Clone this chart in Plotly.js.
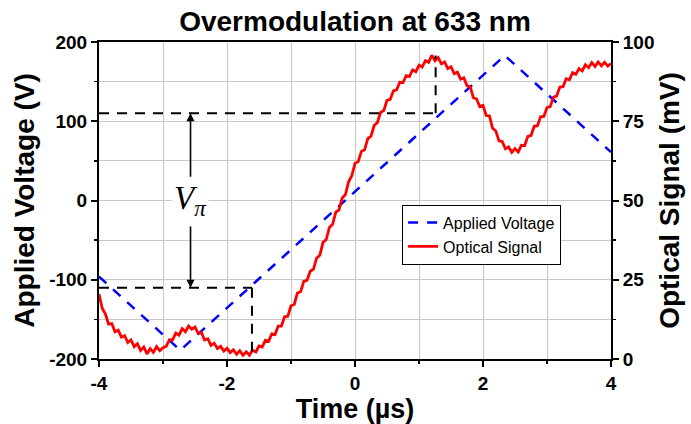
<!DOCTYPE html>
<html>
<head>
<meta charset="utf-8">
<script src="https://cdn.plot.ly/plotly-3.0.1.min.js"></script>
<style>html,body{margin:0;padding:0;background:#fff;}#chart{width:691px;height:424px;}</style>
</head>
<body>
<div id="chart"></div>
<script>
// Applied voltage (triangle wave vertices)
const voltTime = [-4.0, -2.73, 2.34, 4.0];
const voltValue = [-96, -189, 183, 61];

// Optical signal (mV)
const optTime = [
-4.00,-3.95,-3.90,-3.85,-3.80,-3.75,-3.70,-3.65,-3.60,-3.55,-3.50,-3.45,-3.40,-3.35,-3.30,-3.25,-3.20,-3.15,-3.10,-3.05,
-3.00,-2.95,-2.90,-2.85,-2.80,-2.75,-2.70,-2.65,-2.60,-2.55,-2.50,-2.45,-2.40,-2.35,-2.30,-2.25,-2.20,-2.15,-2.10,-2.05,
-2.00,-1.95,-1.90,-1.85,-1.80,-1.75,-1.70,-1.65,-1.60,-1.55,-1.50,-1.45,-1.40,-1.35,-1.30,-1.25,-1.20,-1.15,-1.10,-1.05,
-1.00,-0.95,-0.90,-0.85,-0.80,-0.75,-0.70,-0.65,-0.60,-0.55,-0.50,-0.45,-0.40,-0.35,-0.30,-0.25,-0.20,-0.15,-0.10,-0.05,
0.00,0.05,0.10,0.15,0.20,0.25,0.30,0.35,0.40,0.45,0.50,0.55,0.60,0.65,0.70,0.75,0.80,0.85,0.90,0.95,
1.00,1.05,1.10,1.15,1.20,1.25,1.30,1.35,1.40,1.45,1.50,1.55,1.60,1.65,1.70,1.75,1.80,1.85,1.90,1.95,
2.00,2.05,2.10,2.15,2.20,2.25,2.30,2.35,2.40,2.45,2.50,2.55,2.60,2.65,2.70,2.75,2.80,2.85,2.90,2.95,
3.00,3.05,3.10,3.15,3.20,3.25,3.30,3.35,3.40,3.45,3.50,3.55,3.60,3.65,3.70,3.75,3.80,3.85,3.90,3.95,4.00
];
const optValue = [
20.5,16.0,14.2,11.0,11.2,8.6,9.1,6.9,7.4,5.2,6.0,3.9,4.8,2.7,3.8,1.6,3.3,2.1,3.9,2.6,
3.6,4.0,6.1,6.0,8.2,7.5,9.6,8.6,10.4,9.4,10.1,8.1,8.4,6.0,6.4,4.3,5.0,3.3,4.0,2.5,
3.4,2.0,2.9,1.5,2.6,1.2,2.3,1.2,2.8,2.2,4.1,3.8,5.9,5.6,7.9,7.7,10.4,10.4,13.3,13.5,
16.8,17.2,20.8,21.2,24.5,24.8,27.7,28.3,31.8,32.7,36.8,37.7,41.5,42.5,46.3,47.0,50.8,51.9,55.9,57.8,
61.7,62.3,65.5,66.0,69.5,70.3,73.7,74.6,77.8,78.4,81.6,81.9,84.6,84.9,87.3,87.2,89.4,89.1,91.2,90.6,
92.7,92.1,94.1,93.6,95.8,94.1,95.1,93.1,93.7,91.6,92.2,90.0,90.5,88.3,88.7,86.2,85.9,82.4,82.0,79.6,
80.0,76.8,76.7,72.8,71.9,68.8,68.6,66.3,66.9,65.2,66.4,65.3,67.4,67.3,70.2,70.5,73.4,73.6,76.4,76.5,
79.3,79.6,82.6,82.9,85.8,85.9,88.4,88.1,90.3,89.8,91.6,90.9,92.8,91.9,93.5,92.3,93.7,92.5,93.6,92.4,93.2
];

// Tick labels
const xTickVals = [-4, -2, 0, 2, 4];
const xTickText = ['-4', '-2', '0', '2', '4'];
const yTickVals = [-200, -100, 0, 100, 200];
const yTickText = ['-200', '-100', '0', '100', '200'];
const y2TickVals = [0, 25, 50, 75, 100];
const y2TickText = ['0', '25', '50', '75', '100'];

// V-pi reference construction
const vpiLevels = [-110, 110];     // applied voltage levels (V)
const vpiTimes = [-1.61, 1.26];    // crossing times (µs)
const vpiDropEnds = [-200, 183];   // vertical dashed line ends (V)
const arrowTime = [-2.57];
const arrowTails = [-31, 28];

const FONT = 'Liberation Sans, Arial, sans-serif';
const black = '#000';

const traces = [
  {x: voltTime, y: voltValue, name: 'Applied Voltage', type: 'scatter', mode: 'lines',
   line: {color: '#0000ff', width: 2.5, dash: '10px,9px'}, yaxis: 'y'},
  {x: optTime, y: optValue, name: 'Optical Signal', type: 'scatter', mode: 'lines',
   line: {color: '#ff0000', width: 2.8}, yaxis: 'y2'}
];

const shapes = [];
for (let i = 0; i < 2; i++) {
  shapes.push({type: 'line', xref: 'x', yref: 'y', x0: -4, x1: vpiTimes[i], y0: vpiLevels[i], y1: vpiLevels[i],
    line: {color: black, width: 2, dash: '10px,8px'}});
  shapes.push({type: 'line', xref: 'x', yref: 'y', x0: vpiTimes[i], x1: vpiTimes[i], y0: vpiLevels[i], y1: vpiDropEnds[i],
    line: {color: black, width: 2, dash: '10px,8px'}});
}

const annotations = [
  {x: arrowTime[0], y: 0, xref: 'x', yref: 'y', showarrow: false,
   text: '<i>V</i><sub><i>π</i></sub>', font: {family: 'Liberation Serif, Times New Roman, serif', size: 33, color: black},
   bgcolor: '#fff', xanchor: 'center', yanchor: 'middle'},
  {x: arrowTime[0], y: vpiLevels[1], ax: arrowTime[0], ay: arrowTails[1], xref: 'x', yref: 'y', axref: 'x', ayref: 'y',
   text: '', showarrow: true, arrowhead: 2, arrowsize: 1, arrowwidth: 1.6, arrowcolor: black, standoff: 0},
  {x: arrowTime[0], y: vpiLevels[0], ax: arrowTime[0], ay: arrowTails[0], xref: 'x', yref: 'y', axref: 'x', ayref: 'y',
   text: '', showarrow: true, arrowhead: 2, arrowsize: 1, arrowwidth: 1.6, arrowcolor: black, standoff: 0}
];

const axisCommon = {
  showline: true, linecolor: black, linewidth: 2, ticks: 'outside', ticklen: 6, tickwidth: 2, tickcolor: black,
  tickfont: {family: FONT, size: 19, color: black, weight: 'bold'}, zeroline: false
};

const layout = {
  width: 691, height: 424,
  margin: {l: 99, r: 80, t: 42, b: 65},
  paper_bgcolor: '#fff', plot_bgcolor: '#fff',
  font: {family: FONT, color: black},
  title: {text: '<b>Overmodulation at 633 nm</b>', font: {family: FONT, size: 28, color: black},
          x: 0.5, xref: 'paper', y: 0.951, yref: 'container', yanchor: 'middle'},
  xaxis: Object.assign({}, axisCommon, {
    range: [-4, 4], tickvals: xTickVals, ticktext: xTickText, mirror: true,
    showgrid: true, gridcolor: '#c8c8c8', gridwidth: 1,
    minor: {dtick: 1, tick0: 0, ticks: 'outside', ticklen: 3, tickcolor: black, tickwidth: 1.5, showgrid: true, gridcolor: '#c8c8c8', gridwidth: 1},
    title: {text: '<b>Time (µs)</b>', font: {family: FONT, size: 27, color: black}, standoff: 2}
  }),
  yaxis: Object.assign({}, axisCommon, {
    range: [-200, 200], tickvals: yTickVals, ticktext: yTickText,
    showgrid: true, gridcolor: '#c8c8c8', gridwidth: 1,
    minor: {dtick: 50, tick0: 0, ticks: 'outside', ticklen: 3, tickcolor: black, tickwidth: 1.5, showgrid: true, gridcolor: '#c8c8c8', gridwidth: 1},
    title: {text: '<b>Applied Voltage (V)</b>', font: {family: FONT, size: 28, color: black}, standoff: 6}
  }),
  yaxis2: Object.assign({}, axisCommon, {
    range: [0, 100], tickvals: y2TickVals, ticktext: y2TickText, overlaying: 'y', side: 'right',
    showgrid: false,
    minor: {dtick: 12.5, tick0: 0, ticks: 'outside', ticklen: 3, tickcolor: black, tickwidth: 1.5, showgrid: false},
    title: {text: '<b>Optical Signal (mV)</b>', font: {family: FONT, size: 28, color: black}, standoff: 6}
  }),
  legend: {x: 0.592, y: 0.487, xanchor: 'left', yanchor: 'top', bgcolor: '#fff', bordercolor: black, borderwidth: 1,
           font: {family: FONT, size: 16, color: black}, tracegroupgap: 0, itemwidth: 30},
  shapes: shapes,
  annotations: annotations,
  showlegend: true
};

Plotly.newPlot('chart', traces, layout, {displayModeBar: false, staticPlot: true});
</script>
</body>
</html>
